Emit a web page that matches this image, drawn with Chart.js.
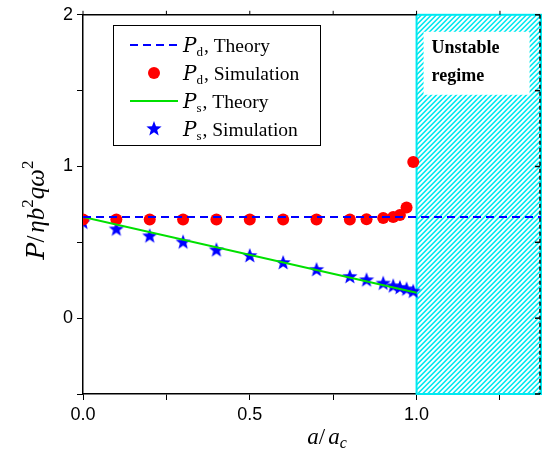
<!DOCTYPE html>
<html>
<head>
<meta charset="utf-8">
<script src="https://cdn.jsdelivr.net/npm/chart.js@4/dist/chart.umd.min.js"></script>
<style>
  html, body { margin: 0; padding: 0; background: #fff; }
  #wrap { width: 550px; height: 453px; }
</style>
</head>
<body>
<div id="wrap"><canvas id="chart" width="550" height="453"></canvas></div>
<script>
// data
const pdSimX = [0, 0.1, 0.2, 0.3, 0.4, 0.5, 0.6, 0.7, 0.8, 0.85, 0.9, 0.93, 0.95, 0.97, 0.99];
const pdSimY = [0.65, 0.65, 0.65, 0.65, 0.65, 0.65, 0.65, 0.65, 0.65, 0.652, 0.66, 0.667, 0.68, 0.73, 1.03];
const psSimX = [0, 0.1, 0.2, 0.3, 0.4, 0.5, 0.6, 0.7, 0.8, 0.85, 0.9, 0.93, 0.95, 0.97, 0.99];
const psSimY = [0.63, 0.585, 0.54, 0.5, 0.448, 0.41, 0.364, 0.318, 0.272, 0.25, 0.228, 0.21, 0.2, 0.19, 0.175];
const pdTheoryX = [0, 1.373];
const pdTheoryY = [0.667, 0.667];
const psTheoryX = [0, 1];
const psTheoryY = [0.667, 0.167];
const xTicks = [0, 0.25, 0.5, 0.75, 1, 1.25];
const xTickLabels = ['0.0', '', '0.5', '', '1.0', ''];
const yTicks = [-0.5, 0, 0.5, 1, 1.5, 2];
const yTickLabels = ['', '0', '', '1', '', '2'];
const unstableFrom = 1;
const xMax = 1.373;

const pts = (xs, ys) => xs.map((x, i) => ({ x: x, y: ys[i] }));

// filled five point star for the simulation markers
function makeStar(r, color) {
  const c = document.createElement('canvas');
  c.width = c.height = r * 2 + 2;
  const g = c.getContext('2d');
  g.fillStyle = color;
  g.beginPath();
  for (let i = 0; i < 10; i++) {
    const rr = i % 2 === 0 ? r : r * 0.42;
    const a = -Math.PI / 2 + i * Math.PI / 5;
    const px = r + 1 + rr * Math.cos(a), py = r + 1 + rr * Math.sin(a);
    if (i === 0) g.moveTo(px, py); else g.lineTo(px, py);
  }
  g.closePath();
  g.fill();
  return c;
}
const star = makeStar(8, '#0000ff');

const SERIF = '"Liberation Serif", "DejaVu Serif", serif';

// draws a row of text pieces, some lowered/raised, returns width
function drawParts(ctx, parts, x, y, measureOnly) {
  let cx = x;
  parts.forEach(p => {
    ctx.font = p.font;
    if (!measureOnly) ctx.fillText(p.t, cx, y + (p.dy || 0));
    cx += ctx.measureText(p.t).width + (p.gap || 0);
  });
  return cx - x;
}

const scriptP = (size) => ({ t: 'P', font: `italic ${size}px "URW Chancery L", "DejaVu Serif", serif` });

const deco = {
  id: 'deco',
  beforeDatasetsDraw(chart) {
    const { ctx, chartArea: a, scales: { x } } = chart;
    const x0 = x.getPixelForValue(unstableFrom), x1 = a.right;
    ctx.save();
    ctx.beginPath();
    ctx.rect(x0, a.top, x1 - x0, a.bottom - a.top);
    ctx.clip();
    ctx.strokeStyle = '#00e8f0';
    ctx.lineWidth = 1.6;
    const h = a.bottom - a.top;
    for (let k = x0 - h; k < x1 + 5; k += 5) {
      ctx.beginPath();
      ctx.moveTo(k, a.bottom);
      ctx.lineTo(k + h, a.top);
      ctx.stroke();
    }
    ctx.restore();
    ctx.save();
    ctx.strokeStyle = '#00e8f0';
    ctx.lineWidth = 2;
    ctx.strokeRect(x0, a.top, x1 - x0, a.bottom - a.top);
    // text box
    ctx.fillStyle = '#fff';
    ctx.fillRect(x0 + 7, a.top + 17, 106, 63);
    ctx.fillStyle = '#000';
    ctx.font = 'bold 18px ' + SERIF;
    ctx.textBaseline = 'middle';
    ctx.fillText('Unstable', x0 + 15, a.top + 34);
    ctx.fillText('regime', x0 + 15, a.top + 62);
    ctx.restore();
  },
  afterDraw(chart) {
    const { ctx, chartArea: a, scales: { x, y } } = chart;
    ctx.save();
    // top frame with small ticks
    ctx.strokeStyle = '#000';
    ctx.lineWidth = 1.5;
    ctx.beginPath();
    ctx.moveTo(a.left, a.top);
    ctx.lineTo(x.getPixelForValue(unstableFrom), a.top);
    ctx.stroke();
    ctx.lineWidth = 1;
    xTicks.forEach(v => {
      const px = x.getPixelForValue(v);
      ctx.beginPath();
      ctx.moveTo(px, a.top);
      ctx.lineTo(px, a.top - 4);
      ctx.stroke();
    });
    // right frame, dashed
    ctx.setLineDash([4, 3]);
    ctx.lineWidth = 1.5;
    ctx.beginPath();
    ctx.moveTo(a.right - 1, a.top);
    ctx.lineTo(a.right - 1, a.bottom);
    ctx.stroke();
    ctx.setLineDash([]);
    yTicks.forEach(v => {
      const py = y.getPixelForValue(v);
      ctx.beginPath();
      ctx.moveTo(a.right - 1, py);
      ctx.lineTo(a.right - 6, py);
      ctx.stroke();
    });

    // legend
    const lx = 113, ly = 25, lw = 207, lh = 120;
    ctx.fillStyle = '#fff';
    ctx.fillRect(lx, ly, lw, lh);
    ctx.strokeStyle = '#000';
    ctx.lineWidth = 1;
    ctx.strokeRect(lx + 0.5, ly + 0.5, lw, lh);
    const rows = [
      { sub: 'd', label: 'Theory', kind: 'dash' },
      { sub: 'd', label: 'Simulation', kind: 'dot' },
      { sub: 's', label: 'Theory', kind: 'line' },
      { sub: 's', label: 'Simulation', kind: 'star' }
    ];
    ctx.textBaseline = 'alphabetic';
    rows.forEach((r, i) => {
      const cy = 45 + i * 28;
      if (r.kind === 'dash' || r.kind === 'line') {
        ctx.strokeStyle = r.kind === 'dash' ? '#0000ff' : '#00e000';
        ctx.lineWidth = 2;
        ctx.setLineDash(r.kind === 'dash' ? [8, 5] : []);
        ctx.beginPath();
        ctx.moveTo(130, cy);
        ctx.lineTo(178, cy);
        ctx.stroke();
        ctx.setLineDash([]);
      } else if (r.kind === 'dot') {
        ctx.fillStyle = '#ff0000';
        ctx.beginPath();
        ctx.arc(154, cy, 6, 0, Math.PI * 2);
        ctx.fill();
      } else {
        ctx.drawImage(star, 154 - star.width / 2, cy - star.height / 2);
      }
      ctx.fillStyle = '#000';
      drawParts(ctx, [
        scriptP(20),
        { t: r.sub, font: '13px ' + SERIF, dy: 4, gap: 1 },
        { t: ', ' + r.label, font: '19.5px ' + SERIF }
      ], 183, cy + 7);
    });

    // axis titles
    ctx.fillStyle = '#000';
    const xt = [
      { t: 'a', font: 'italic 23px ' + SERIF },
      { t: '/', font: '23px ' + SERIF, gap: 3 },
      { t: 'a', font: 'italic 23px ' + SERIF },
      { t: 'c', font: 'italic 16px ' + SERIF, dy: 4 }
    ];
    const xw = drawParts(ctx, xt, 0, 0, true);
    drawParts(ctx, xt, 327 - xw / 2, 444);

    const yt = [
      scriptP(25),
      { t: '/', font: '25px ' + SERIF, gap: 3 },
      { t: 'ηb', font: 'italic 25px ' + SERIF },
      { t: '2', font: '17px ' + SERIF, dy: -11 },
      { t: 'qω', font: 'italic 25px ' + SERIF },
      { t: '2', font: '17px ' + SERIF, dy: -11 }
    ];
    const yw = drawParts(ctx, yt, 0, 0, true);
    ctx.translate(44, 210);
    ctx.rotate(-Math.PI / 2);
    drawParts(ctx, yt, -yw / 2, 0);
    ctx.restore();
  }
};

const ctx = document.getElementById('chart').getContext('2d');
new Chart(ctx, {
  type: 'scatter',
  data: {
    datasets: [
      {
        data: pts(pdTheoryX, pdTheoryY),
        showLine: true, pointRadius: 0,
        borderColor: '#0000ff', borderWidth: 2, borderDash: [8, 5]
      },
      {
        data: pts(psTheoryX, psTheoryY),
        showLine: true, pointRadius: 0,
        borderColor: '#00e000', borderWidth: 2
      },
      {
        data: pts(pdSimX, pdSimY),
        pointRadius: 6, pointBackgroundColor: '#ff0000', pointBorderWidth: 0
      },
      {
        data: pts(psSimX, psSimY),
        pointStyle: star, pointRadius: 8
      }
    ]
  },
  options: {
    responsive: false,
    animation: false,
    layout: { padding: { left: 0, right: 7, top: 13, bottom: 0 } },
    plugins: { legend: { display: false }, tooltip: { enabled: false } },
    scales: {
      x: {
        type: 'linear', min: 0, max: xMax,
        afterBuildTicks: s => { s.ticks = xTicks.map(v => ({ value: v })); },
        afterFit: s => { s.height = 59; },
        ticks: {
          autoSkip: false, maxRotation: 0, color: '#000', padding: 4,
          font: { family: '"Liberation Sans", Arial, sans-serif', size: 18 },
          callback: (v, i) => xTickLabels[i]
        },
        grid: { drawOnChartArea: false, color: '#000', tickLength: 6, lineWidth: 1 },
        border: { color: '#000', width: 1.5 }
      },
      y: {
        type: 'linear', min: -0.5, max: 2,
        afterBuildTicks: s => { s.ticks = yTicks.map(v => ({ value: v })); },
        afterFit: s => { s.width = 83; },
        ticks: {
          autoSkip: false, color: '#000', padding: 4,
          font: { family: '"Liberation Sans", Arial, sans-serif', size: 18 },
          callback: (v, i) => yTickLabels[i]
        },
        grid: { drawOnChartArea: false, color: '#000', tickLength: 6, lineWidth: 1 },
        border: { color: '#000', width: 1.5 }
      }
    }
  },
  plugins: [deco]
});
</script>
</body>
</html>
